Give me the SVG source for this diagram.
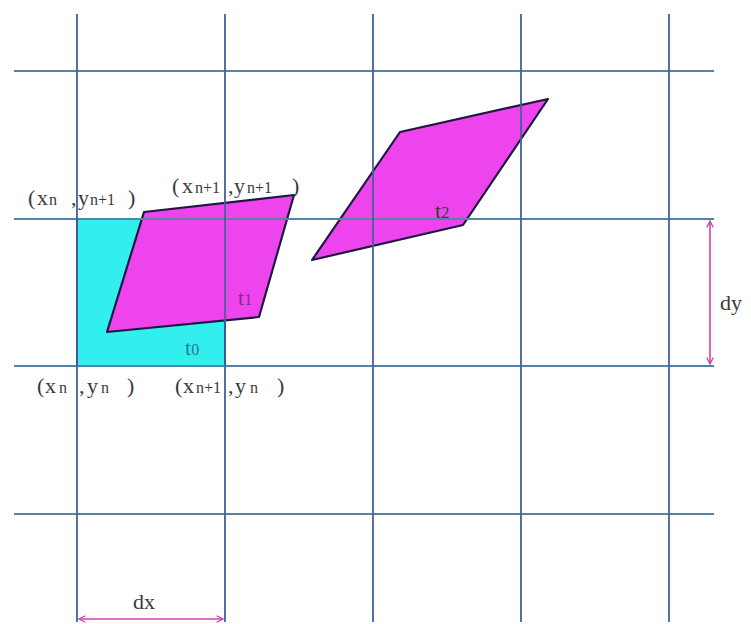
<svg xmlns="http://www.w3.org/2000/svg" width="751" height="624" viewBox="0 0 751 624">
<defs>
<style>
.h{stroke:#5583a8;stroke-width:2;fill:none}
.v{stroke:#43609c;stroke-width:1.8;fill:none}
.para{fill:#ee44ee;stroke:#1c1840;stroke-width:2.2;stroke-linejoin:round}
.cell{fill:#33eeee;stroke:#1c2a40;stroke-width:2}
.lbl{font-family:"Liberation Serif","Times New Roman",serif;font-size:22px;fill:#3a3a3a}
.sub{font-size:16px}
.dim{stroke:#cc44aa;stroke-width:1.6;fill:none}
</style>
<marker id="ah" viewBox="0 0 10 10" refX="9" refY="5" markerWidth="8" markerHeight="8" orient="auto-start-reverse" markerUnits="userSpaceOnUse">
<path d="M1,1 L9,5 L1,9" fill="none" stroke="#cc44aa" stroke-width="1.6"/>
</marker>
</defs>
<rect width="751" height="624" fill="#fff"/>

<g id="cell-t0"><rect class="cell" x="77" y="219" width="148" height="147"/></g>
<g id="shape-t1"><polygon class="para" points="144,212 294,195 259,317 107,332"/></g>
<g id="shape-t2"><polygon class="para" points="400,132 548,99 463,225 312,260"/></g>

<g id="grid">
<line class="h" x1="14" y1="71" x2="714" y2="71"/>
<line class="h" x1="14" y1="219" x2="714" y2="219"/>
<line class="h" x1="14" y1="366" x2="714" y2="366"/>
<line class="h" x1="14" y1="514" x2="714" y2="514"/>
<line class="v" x1="77" y1="14" x2="77" y2="622"/>
<line class="v" x1="225" y1="14" x2="225" y2="622"/>
<line class="v" x1="373" y1="14" x2="373" y2="622"/>
<line class="v" x1="521" y1="14" x2="521" y2="622"/>
<line class="v" x1="669" y1="14" x2="669" y2="622"/>
</g>

<g id="connectors">
<line class="dim" x1="710" y1="221" x2="710" y2="364" marker-start="url(#ah)" marker-end="url(#ah)"/>
<line class="dim" x1="79" y1="619" x2="223" y2="619" marker-start="url(#ah)" marker-end="url(#ah)"/>
</g>

<g id="label-xn-yn1"><text class="lbl" y="205"><tspan x="28">(</tspan><tspan x="37">x</tspan><tspan class="sub" x="49">n</tspan><tspan x="71">,</tspan><tspan x="78">y</tspan><tspan class="sub" x="90">n+1</tspan><tspan x="128">)</tspan></text></g>
<g id="label-xn1-yn1"><text class="lbl" y="193"><tspan x="172">(</tspan><tspan x="182">x</tspan><tspan class="sub" x="195">n+1</tspan><tspan x="228">,</tspan><tspan x="234">y</tspan><tspan class="sub" x="247">n+1</tspan><tspan x="292">)</tspan></text></g>
<g id="label-xn-yn"><text class="lbl" y="393"><tspan x="37">(</tspan><tspan x="45">x</tspan><tspan class="sub" x="59">n</tspan><tspan x="79">,</tspan><tspan x="87">y</tspan><tspan class="sub" x="101">n</tspan><tspan x="127">)</tspan></text></g>
<g id="label-xn1-yn"><text class="lbl" y="393"><tspan x="175">(</tspan><tspan x="183">x</tspan><tspan class="sub" x="196">n+1</tspan><tspan x="228">,</tspan><tspan x="235">y</tspan><tspan class="sub" x="250">n</tspan><tspan x="277">)</tspan></text></g>
<g id="label-t0"><text class="lbl" x="185" y="355" style="fill:#1f7d8c">t<tspan class="sub">0</tspan></text></g>
<g id="label-t1"><text class="lbl" x="238" y="305" style="fill:#8a2a8a">t<tspan class="sub">1</tspan></text></g>
<g id="label-t2"><text class="lbl" x="435" y="218">t<tspan class="sub">2</tspan></text></g>
<g id="label-dy"><text class="lbl" x="720" y="310">dy</text></g>
<g id="label-dx"><text class="lbl" x="133" y="609">dx</text></g>
</svg>
